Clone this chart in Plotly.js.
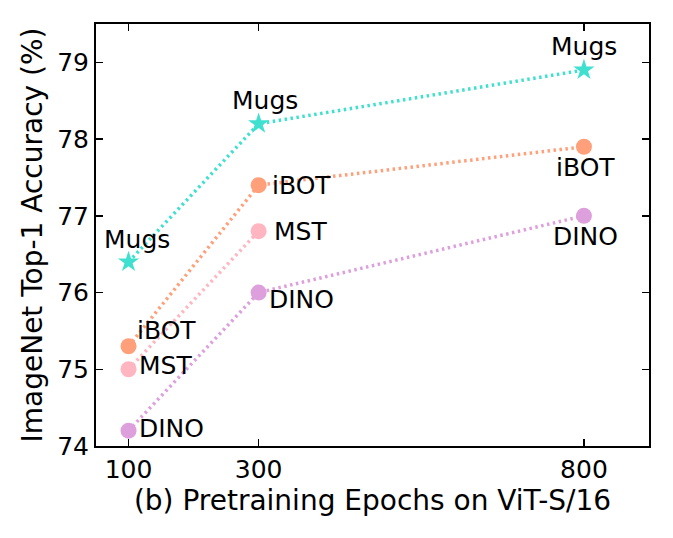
<!DOCTYPE html>
<html><head><meta charset="utf-8">
<script src="https://cdn.plot.ly/plotly-3.0.1.min.js"></script>
<style>body{margin:0;background:#fff}#chart{width:673px;height:538px}</style>
</head><body><div id="chart"></div>
<script>
const epochs = [100, 300, 800];
const mugs = [76.4, 78.2, 78.9];
const ibot = [75.3, 77.4, 77.9];
const mstEpochs = [100, 300];
const mst = [75.0, 76.8];
const dino = [74.2, 76.0, 77.0];
const xTicks = [100, 300, 800];
const yTicks = [74, 75, 76, 77, 78, 79];

function series(x, y, color, symbol, size) {
  return {x: x, y: y, type: 'scatter', mode: 'lines+markers',
    line: {color: color, width: 3.5, dash: '2.5px,3.5px'},
    marker: {color: color, symbol: symbol, size: size}, showlegend: false, hoverinfo: 'skip'};
}
const traces = [
  series(epochs, dino, '#DDA0DD', 'circle', 16),
  series(mstEpochs, mst, '#FFB6C1', 'circle', 16),
  series(epochs, ibot, '#FFA07A', 'circle', 16),
  series(epochs, mugs, '#40E0D0', 'star', 16)
];

const f = {family: 'DejaVu Sans', size: 25, color: '#000'};
function ann(x, y, text, xanchor, xs, ys) {
  return {x: x, y: y, xref: 'x', yref: 'y', text: text, showarrow: false,
    xanchor: xanchor, yanchor: 'middle', xshift: xs, yshift: ys, font: f};
}
const annotations = [
  ann(epochs[0], mugs[0], 'Mugs', 'center', 8, 22),
  ann(epochs[1], mugs[1], 'Mugs', 'center', 6, 23),
  ann(epochs[2], mugs[2], 'Mugs', 'center', 0, 24),
  ann(epochs[0], ibot[0], 'iBOT', 'left', 6, 16),
  ann(epochs[1], ibot[1], 'iBOT', 'left', 11, 0),
  ann(epochs[2], ibot[2], 'iBOT', 'center', 2, -21),
  ann(mstEpochs[0], mst[0], 'MST', 'left', 8, 4),
  ann(mstEpochs[1], mst[1], 'MST', 'left', 13, 0),
  ann(epochs[0], dino[0], 'DINO', 'left', 8, 2),
  ann(epochs[1], dino[1], 'DINO', 'left', 8, -7),
  ann(epochs[2], dino[2], 'DINO', 'center', 2, -21)
];

const axisCommon = {showgrid: false, zeroline: false, showline: true, linecolor: '#000', linewidth: 2,
  mirror: 'allticks', ticks: 'inside', ticklen: 7, tickwidth: 1.5, tickcolor: '#000',
  tickfont: {family: 'DejaVu Sans', size: 25, color: '#000'}};
const tf = {family: 'DejaVu Sans', size: 28, color: '#000'};
const layout = {
  width: 673, height: 538, paper_bgcolor: '#fff', plot_bgcolor: '#fff',
  margin: {l: 96, r: 24, t: 24, b: 92},
  xaxis: Object.assign({}, axisCommon, {range: [50, 900], tickvals: xTicks, ticktext: xTicks.map(String),
    title: {text: '(b) Pretraining Epochs on ViT-S/16', font: tf, standoff: 6}}),
  yaxis: Object.assign({}, axisCommon, {range: [74, 79.5], tickvals: yTicks, ticktext: yTicks.map(String),
    title: {text: 'ImageNet Top-1 Accuracy (%)', font: tf, standoff: 6}}),
  annotations: annotations
};
Plotly.newPlot('chart', traces, layout, {displayModeBar: false, staticPlot: true});
</script></body></html>
